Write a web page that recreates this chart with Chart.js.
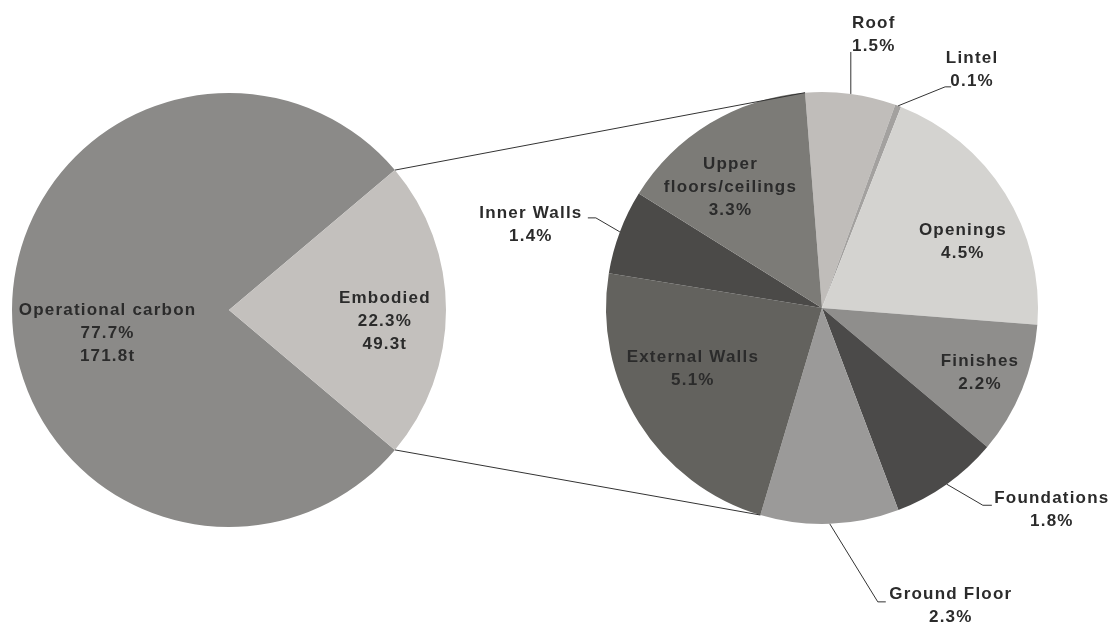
<!DOCTYPE html>
<html>
<head>
<meta charset="utf-8">
<script src="https://cdn.jsdelivr.net/npm/chart.js@4"></script>
<style>
  html, body { margin: 0; padding: 0; background: #fff; }
  #wrap { position: relative; width: 1117px; height: 628px; }
  #wrap canvas { position: absolute; left: 0; top: 0; }
</style>
</head>
<body>
<div id="wrap">
  <canvas id="main" width="1117" height="628"></canvas>
  <canvas id="parts" width="1117" height="628"></canvas>
</div>
<script>
// whole-life carbon split
const mainLabels = ['Operational carbon', 'Embodied'];
const mainShares = [77.7, 22.3];
const mainTonnes = [171.8, 49.3];
const mainColors = ['#8b8a88', '#c3c0bd'];

// embodied carbon broken down by building element (% of total)
const partLabels = ['Roof', 'Lintel', 'Openings', 'Finishes', 'Foundations',
    'Ground Floor', 'External Walls', 'Inner Walls', ['Upper', 'floors/ceilings']];
const partShares = [1.5, 0.1, 4.5, 2.2, 1.8, 2.3, 5.1, 1.4, 3.3];
const partColors = ['#c0bdba', '#a3a19f', '#d4d3d0', '#8f8e8c', '#4b4a49',
    '#9b9a99', '#63625e', '#4b4a48', '#7c7b77'];

// where each label sits: inside at a fraction of the radius (da = angle nudge, deg),
// or outside on a leader line (offsets from the slice edge)
const mainPlacement = [
    {r: 0.57, da: -11},
    {r: 0.72, da: 4}
];
const partPlacement = [
    {elbow: [0, -42], tail: 0, text: [23, -59]},
    {elbow: [47, -19], tail: 6, text: [74, -36]},
    {r: 0.72, da: 7},
    {r: 0.79, da: 0},
    {elbow: [36, 21], tail: 9, text: [105, 26]},
    {elbow: [48, 78], tail: 8, text: [121, 82]},
    {r: 0.66, da: 7},
    {elbow: [-24, -14], tail: -8, text: [-89, -7]},
    {r: 0.70, da: -6}
];

const FONT = 'bold 17px "Liberation Sans", Arial, sans-serif';
const INK = '#2b2b2b';
const LINE_H = 23;

function pct(v) { return v.toFixed(1) + '%'; }

function textBlock(ctx, lines, x, y) {
    ctx.save();
    ctx.font = FONT;
    ctx.fillStyle = INK;
    ctx.textAlign = 'center';
    ctx.textBaseline = 'middle';
    ctx.letterSpacing = '1.2px';
    const top = y - (lines.length - 1) * LINE_H / 2;
    lines.forEach((s, i) => ctx.fillText(s, x, top + i * LINE_H));
    ctx.restore();
}

function drawLabels(chart, linesFor, placement) {
    const ctx = chart.ctx;
    chart.getDatasetMeta(0).data.forEach((arc, i) => {
        const p = arc.getProps(['x', 'y', 'startAngle', 'endAngle', 'outerRadius'], true);
        const mid = (p.startAngle + p.endAngle) / 2;
        const cfg = placement[i];
        const lines = linesFor(i);
        if (cfg.r !== undefined) {
            const a = mid + cfg.da * Math.PI / 180;
            const rr = p.outerRadius * cfg.r;
            textBlock(ctx, lines, p.x + Math.cos(a) * rr, p.y + Math.sin(a) * rr);
        } else {
            const ex = p.x + Math.cos(mid) * p.outerRadius;
            const ey = p.y + Math.sin(mid) * p.outerRadius;
            const bx = ex + cfg.elbow[0], by = ey + cfg.elbow[1];
            ctx.save();
            ctx.strokeStyle = '#333';
            ctx.lineWidth = 1;
            ctx.beginPath();
            ctx.moveTo(ex, ey);
            ctx.lineTo(bx, by);
            ctx.lineTo(bx + cfg.tail, by);
            ctx.stroke();
            ctx.restore();
            textBlock(ctx, lines, ex + cfg.text[0], ey + cfg.text[1]);
        }
    });
}

const mainChart = new Chart(document.getElementById('main'), {
    type: 'pie',
    data: {
        labels: mainLabels,
        datasets: [{data: mainShares, backgroundColor: mainColors, borderWidth: 0}]
    },
    options: {
        responsive: false,
        animation: false,
        rotation: 90 + mainShares[1] * 1.8,
        layout: {padding: {left: 12, right: 671, top: 93, bottom: 101}},
        plugins: {legend: {display: false}, tooltip: {enabled: false}}
    },
    plugins: [{
        id: 'mainLabels',
        afterDatasetsDraw(chart) {
            drawLabels(chart, i => [mainLabels[i], pct(mainShares[i]), mainTonnes[i].toFixed(1) + 't'], mainPlacement);
        }
    }]
});

new Chart(document.getElementById('parts'), {
    type: 'pie',
    data: {
        labels: partLabels,
        datasets: [{data: partShares, backgroundColor: partColors, borderWidth: 0}]
    },
    options: {
        responsive: false,
        animation: false,
        rotation: -4.5,
        layout: {padding: {left: 606, right: 79, top: 92, bottom: 104}},
        plugins: {legend: {display: false}, tooltip: {enabled: false}}
    },
    plugins: [{
        id: 'partLabels',
        afterDatasetsDraw(chart) {
            const ctx = chart.ctx;
            // lines joining the embodied slice to the breakdown pie
            const emb = mainChart.getDatasetMeta(0).data[1].getProps(['x', 'y', 'startAngle', 'endAngle', 'outerRadius'], true);
            const arcs = chart.getDatasetMeta(0).data;
            const first = arcs[0].getProps(['x', 'y', 'startAngle', 'outerRadius'], true);
            const ground = arcs[5].getProps(['endAngle'], true);
            const pt = (o, a) => [o.x + Math.cos(a) * o.outerRadius, o.y + Math.sin(a) * o.outerRadius];
            const links = [
                [pt(emb, emb.startAngle), pt(first, first.startAngle)],
                [pt(emb, emb.endAngle), pt(first, ground.endAngle)]
            ];
            ctx.save();
            ctx.strokeStyle = '#333';
            ctx.lineWidth = 1;
            links.forEach(([a, b]) => {
                ctx.beginPath();
                ctx.moveTo(a[0], a[1]);
                ctx.lineTo(b[0], b[1]);
                ctx.stroke();
            });
            ctx.restore();
            drawLabels(chart, i => {
                const name = Array.isArray(partLabels[i]) ? partLabels[i] : [partLabels[i]];
                return [...name, pct(partShares[i])];
            }, partPlacement);
        }
    }]
});
</script>
</body>
</html>
